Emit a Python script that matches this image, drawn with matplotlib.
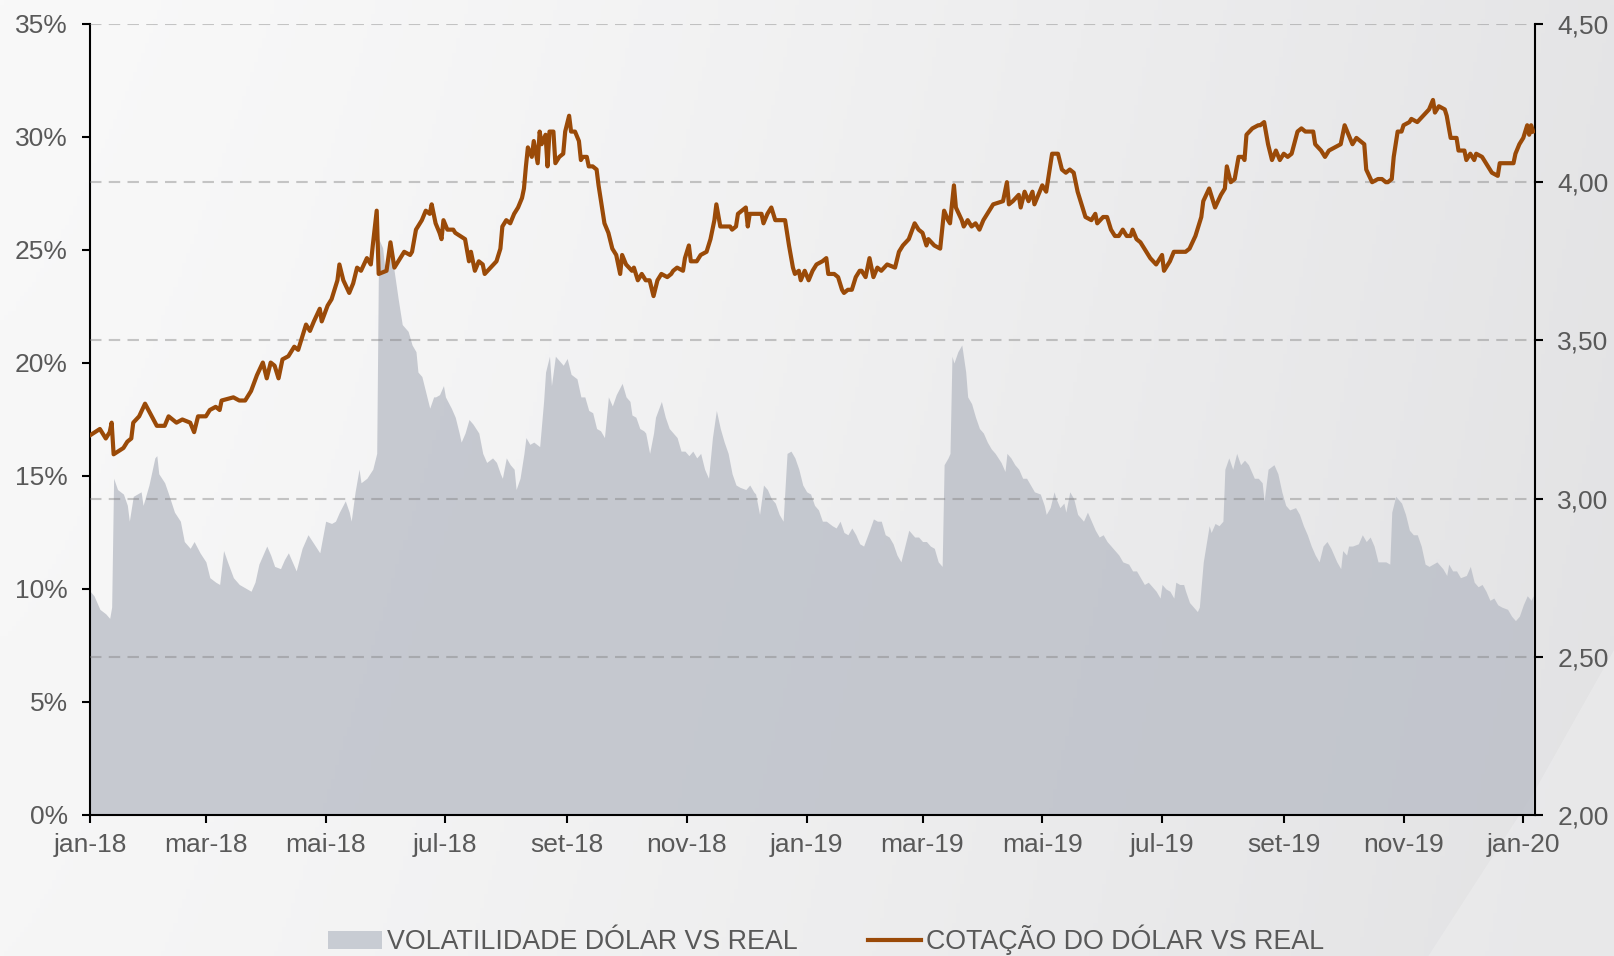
import numpy as np
import pandas as pd
import matplotlib
matplotlib.use('Agg')
import matplotlib.pyplot as plt
import matplotlib.dates as mdates
from matplotlib.patches import Patch, Polygon
from matplotlib.lines import Line2D
from matplotlib.ticker import FuncFormatter, FixedLocator

plt.rcParams['font.family'] = ['Liberation Sans', 'DejaVu Sans']

INICIO = pd.Timestamp('2018-01-01')

# cotação do dólar (R$), dias contados desde 01/01/2018
dias_cotacao = [
    0, 5, 8, 10, 11, 12, 17, 19, 21, 22,
    25, 28, 34, 38, 40, 44, 47, 51, 53, 55,
    59, 61, 64, 66, 67, 73, 76, 79, 82, 85,
    88, 90, 92, 94, 96, 98, 101, 104, 106, 110,
    112, 114, 117, 118, 121, 123, 126, 127, 129, 132,
    134, 136, 138, 141, 143, 144, 146, 147, 151, 153,
    155, 157, 160, 163, 164, 166, 169, 171, 173, 174,
    176, 178, 179, 180, 182, 185, 186, 191, 193, 194,
    196, 198, 200, 201, 204, 207, 209, 210, 212, 214,
    216, 218, 220, 221, 222, 223, 225, 226, 228, 229,
    230, 232, 233, 234, 236, 237, 239, 241, 242, 244,
    245, 247, 249, 250, 251, 253, 254, 256, 258, 259,
    260, 262, 264, 266, 268, 270, 271, 273, 276, 277,
    279, 281, 283, 285, 287, 289, 291, 294, 296, 297,
    299, 302, 303, 305, 306, 309, 311, 314, 316, 318,
    319, 321, 323, 326, 327, 329, 330, 332, 334, 335,
    336, 339, 340, 342, 343, 345, 347, 349, 350, 354,
    356, 358, 359, 361, 362, 364, 366, 368, 370, 373,
    375, 376, 379, 381, 383, 384, 386, 388, 390, 392,
    393, 395, 397, 399, 401, 403, 406, 410, 412, 414,
    417, 420, 422, 424, 426, 427, 430, 433, 435, 437,
    438, 440, 441, 444, 445, 447, 449, 451, 453, 455,
    457, 460, 465, 467, 468, 470, 473, 474, 476, 478,
    480, 481, 485, 487, 489, 490, 493, 495, 497, 499,
    501, 503, 505, 507, 510, 512, 513, 516, 518, 520,
    522, 524, 526, 528, 530, 531, 533, 535, 537, 538,
    540, 543, 546, 547, 550, 552, 555, 558, 560, 563,
    566, 567, 570, 573, 576, 578, 579, 581, 583, 585,
    587, 588, 589, 592, 595, 596, 598, 600, 602, 604,
    606, 608, 610, 612, 615, 617, 619, 621, 623, 624,
    627, 629, 631, 634, 637, 639, 643, 645, 649, 650,
    653, 656, 658, 660, 661, 663, 664, 666, 668, 669,
    672, 673, 676, 679, 682, 684, 685, 687, 690, 691,
    693, 696, 697, 700, 701, 703, 705, 706, 709, 712,
    714, 717, 718, 722, 725, 726, 728, 730, 732, 733,
    734, 735,
]
cotacao = [
    3.20, 3.22, 3.19, 3.21, 3.24, 3.14, 3.16, 3.18, 3.19, 3.24,
    3.26, 3.30, 3.23, 3.23, 3.26, 3.24, 3.25, 3.24, 3.21, 3.26,
    3.26, 3.28, 3.29, 3.28, 3.31, 3.32, 3.31, 3.31, 3.34, 3.39,
    3.43, 3.38, 3.43, 3.42, 3.38, 3.44, 3.45, 3.48, 3.47, 3.55,
    3.53, 3.56, 3.60, 3.56, 3.61, 3.63, 3.69, 3.74, 3.69, 3.65,
    3.68, 3.73, 3.72, 3.76, 3.74, 3.80, 3.91, 3.71, 3.72, 3.81,
    3.73, 3.75, 3.78, 3.77, 3.78, 3.85, 3.88, 3.91, 3.90, 3.93,
    3.87, 3.84, 3.82, 3.88, 3.85, 3.85, 3.84, 3.82, 3.75, 3.78,
    3.72, 3.75, 3.74, 3.71, 3.73, 3.75, 3.79, 3.86, 3.88, 3.87,
    3.90, 3.92, 3.95, 3.98, 4.05, 4.11, 4.08, 4.13, 4.06, 4.16,
    4.12, 4.15, 4.05, 4.16, 4.16, 4.06, 4.08, 4.09, 4.16, 4.21,
    4.16, 4.16, 4.13, 4.07, 4.08, 4.08, 4.05, 4.05, 4.04, 3.99,
    3.95, 3.87, 3.84, 3.79, 3.77, 3.71, 3.77, 3.74, 3.72, 3.73,
    3.69, 3.71, 3.69, 3.69, 3.64, 3.69, 3.71, 3.70, 3.71, 3.72,
    3.73, 3.72, 3.76, 3.80, 3.75, 3.75, 3.77, 3.78, 3.82, 3.88,
    3.93, 3.86, 3.86, 3.86, 3.85, 3.86, 3.90, 3.91, 3.92, 3.86,
    3.90, 3.90, 3.90, 3.90, 3.87, 3.90, 3.92, 3.88, 3.88, 3.88,
    3.80, 3.73, 3.71, 3.72, 3.69, 3.72, 3.69, 3.72, 3.74, 3.75,
    3.76, 3.71, 3.71, 3.70, 3.66, 3.65, 3.66, 3.66, 3.70, 3.72,
    3.72, 3.70, 3.76, 3.70, 3.73, 3.72, 3.74, 3.73, 3.78, 3.80,
    3.82, 3.87, 3.85, 3.84, 3.80, 3.82, 3.80, 3.79, 3.91, 3.88,
    3.87, 3.99, 3.92, 3.88, 3.86, 3.88, 3.86, 3.87, 3.85, 3.88,
    3.90, 3.93, 3.94, 4.00, 3.93, 3.94, 3.96, 3.92, 3.97, 3.94,
    3.97, 3.93, 3.99, 3.97, 4.05, 4.09, 4.09, 4.04, 4.03, 4.04,
    4.03, 3.97, 3.93, 3.89, 3.88, 3.90, 3.87, 3.89, 3.89, 3.85,
    3.83, 3.83, 3.85, 3.83, 3.83, 3.85, 3.82, 3.81, 3.79, 3.78,
    3.76, 3.74, 3.77, 3.72, 3.75, 3.78, 3.78, 3.78, 3.79, 3.83,
    3.89, 3.94, 3.98, 3.92, 3.96, 3.98, 4.05, 4.00, 4.01, 4.08,
    4.08, 4.07, 4.15, 4.17, 4.18, 4.18, 4.19, 4.12, 4.07, 4.10,
    4.07, 4.09, 4.08, 4.09, 4.16, 4.17, 4.16, 4.16, 4.16, 4.12,
    4.10, 4.08, 4.10, 4.11, 4.12, 4.18, 4.12, 4.14, 4.12, 4.04,
    4.00, 4.01, 4.01, 4.00, 4.00, 4.01, 4.08, 4.16, 4.16, 4.18,
    4.19, 4.20, 4.19, 4.21, 4.23, 4.26, 4.22, 4.24, 4.23, 4.21,
    4.14, 4.14, 4.10, 4.10, 4.07, 4.09, 4.07, 4.09, 4.08, 4.05,
    4.03, 4.02, 4.06, 4.06, 4.06, 4.09, 4.12, 4.14, 4.18, 4.15,
    4.18, 4.16,
]

# volatilidade (%), dias contados desde 01/01/2018
dias_vol = [
    0, 2, 5, 8, 10, 11, 12, 14, 17, 19,
    20, 22, 24, 26, 27, 30, 33, 34, 35, 38,
    40, 43, 46, 48, 51, 53, 56, 59, 61, 64,
    66, 68, 70, 73, 76, 80, 82, 84, 86, 88,
    90, 92, 94, 97, 99, 101, 103, 105, 108, 111,
    114, 117, 120, 123, 125, 127, 130, 132, 133, 135,
    137, 138, 141, 144, 146, 147, 149, 150, 152, 153,
    155, 157, 159, 162, 164, 166, 167, 169, 171, 173,
    175, 176, 178, 180, 181, 184, 186, 188, 189, 191,
    193, 195, 198, 200, 202, 205, 207, 209, 210, 212,
    214, 216, 217, 219, 221, 222, 224, 226, 229, 231,
    232, 234, 235, 237, 239, 241, 243, 245, 248, 250,
    252, 254, 256, 258, 260, 262, 264, 266, 268, 271,
    273, 275, 276, 278, 280, 282, 283, 285, 287, 288,
    291, 293, 295, 297, 299, 301, 303, 305, 307, 309,
    311, 313, 315, 317, 319, 321, 323, 325, 327, 329,
    331, 334, 336, 338, 339, 341, 343, 345, 347, 349,
    351, 353, 355, 357, 359, 361, 363, 365, 367, 369,
    371, 373, 375, 378, 380, 382, 384, 386, 388, 390,
    392, 394, 397, 399, 401, 403, 405, 407, 409, 411,
    413, 415, 417, 420, 422, 424, 426, 428, 430, 432,
    434, 435, 437, 438, 439, 440, 442, 444, 446, 447,
    449, 451, 453, 455, 457, 459, 461, 464, 466, 467,
    469, 471, 473, 475, 477, 479, 481, 484, 486, 487,
    489, 491, 492, 494, 496, 497, 499, 501, 503, 506,
    508, 510, 512, 514, 516, 518, 520, 522, 524, 526,
    529, 531, 533, 535, 537, 539, 541, 543, 545, 546,
    548, 550, 552, 553, 555, 557, 558, 560, 562, 564,
    565, 567, 570, 571, 573, 575, 577, 578, 580, 582,
    584, 586, 588, 590, 593, 595, 597, 598, 600, 603,
    605, 607, 609, 611, 614, 616, 618, 620, 622, 624,
    626, 628, 630, 632, 635, 637, 638, 640, 641, 643,
    646, 648, 650, 652, 654, 656, 658, 660, 662, 663,
    665, 668, 670, 672, 674, 676, 678, 680, 682, 684,
    686, 689, 691, 692, 694, 696, 698, 701, 703, 705,
    707, 709, 711, 713, 715, 717, 719, 722, 724, 726,
    728, 730, 732, 734, 735,
]
volatilidade = [
    9.9, 9.7, 9.1, 8.9, 8.7, 9.2, 14.9, 14.4, 14.2, 13.7,
    13.0, 14.1, 14.2, 14.3, 13.7, 14.6, 15.8, 15.9, 15.1, 14.7,
    14.2, 13.4, 13.0, 12.1, 11.8, 12.1, 11.6, 11.2, 10.5, 10.3,
    10.2, 11.7, 11.2, 10.5, 10.2, 10.0, 9.9, 10.3, 11.1, 11.5,
    11.9, 11.5, 11.0, 10.9, 11.3, 11.6, 11.2, 10.8, 11.8, 12.4,
    12.0, 11.6, 13.0, 12.9, 13.0, 13.4, 13.9, 13.4, 13.0, 14.3,
    15.3, 14.7, 14.9, 15.3, 16.0, 25.5, 25.1, 24.3, 24.8, 25.2,
    24.0, 22.8, 21.7, 21.4, 20.8, 20.5, 19.6, 19.4, 18.7, 18.0,
    18.5, 18.5, 18.6, 19.0, 18.5, 18.0, 17.6, 16.9, 16.5, 16.9,
    17.5, 17.3, 16.9, 16.0, 15.6, 15.8, 15.6, 15.1, 14.9, 15.8,
    15.5, 15.3, 14.4, 14.9, 16.0, 16.7, 16.4, 16.5, 16.3, 18.3,
    19.6, 20.3, 19.0, 20.3, 20.1, 19.9, 20.2, 19.5, 19.3, 18.5,
    18.5, 17.9, 17.8, 17.1, 17.0, 16.7, 18.5, 18.1, 18.6, 19.1,
    18.5, 18.3, 17.7, 17.6, 17.1, 17.0, 16.9, 16.0, 16.9, 17.6,
    18.3, 17.6, 17.1, 16.9, 16.7, 16.1, 16.1, 15.9, 16.1, 15.8,
    16.0, 15.3, 14.9, 16.7, 17.9, 17.1, 16.5, 16.0, 15.1, 14.6,
    14.5, 14.4, 14.6, 14.3, 14.2, 13.3, 14.6, 14.4, 14.0, 13.8,
    13.3, 13.0, 16.0, 16.1, 15.8, 15.3, 14.6, 14.3, 14.2, 13.7,
    13.5, 13.0, 13.0, 12.8, 12.7, 13.0, 12.5, 12.4, 12.7, 12.4,
    12.0, 11.9, 12.6, 13.1, 13.0, 13.0, 12.4, 12.3, 12.0, 11.5,
    11.2, 11.9, 12.6, 12.3, 12.3, 12.1, 12.1, 11.9, 11.8, 11.2,
    11.0, 15.5, 15.8, 16.0, 20.3, 20.0, 20.5, 20.8, 19.6, 18.5,
    18.2, 17.6, 17.1, 16.9, 16.5, 16.2, 16.0, 15.6, 15.2, 16.0,
    15.8, 15.5, 15.3, 14.9, 14.9, 14.6, 14.3, 14.2, 13.7, 13.3,
    13.6, 14.3, 14.0, 13.6, 13.8, 13.4, 14.3, 14.0, 13.3, 13.0,
    13.4, 13.0, 12.6, 12.3, 12.4, 12.1, 11.9, 11.7, 11.5, 11.2,
    11.1, 10.8, 10.8, 10.5, 10.2, 10.3, 10.1, 9.9, 9.6, 10.2,
    10.0, 9.9, 9.6, 10.3, 10.2, 10.2, 9.9, 9.4, 9.2, 9.0,
    9.2, 11.2, 12.8, 12.5, 12.9, 12.8, 13.0, 15.3, 15.8, 15.3,
    16.0, 15.5, 15.7, 15.5, 14.9, 14.9, 14.7, 13.9, 15.3, 15.5,
    15.1, 14.3, 13.7, 13.5, 13.6, 13.3, 12.8, 12.4, 11.9, 11.5,
    11.2, 11.9, 12.1, 11.8, 11.2, 10.9, 11.7, 11.5, 11.9, 11.9,
    12.0, 12.4, 12.1, 12.3, 11.9, 11.2, 11.2, 11.2, 11.1, 13.4,
    14.1, 13.8, 13.3, 12.6, 12.4, 12.4, 11.9, 11.1, 11.0, 11.1,
    11.2, 10.9, 10.6, 11.1, 10.8, 10.8, 10.5, 10.6, 11.0, 10.3,
    10.1, 10.2, 9.9, 9.5, 9.6, 9.3, 9.2, 9.1, 8.8, 8.6,
    8.8, 9.3, 9.7, 9.5, 9.7,
]

meses = ['jan', 'fev', 'mar', 'abr', 'mai', 'jun',
         'jul', 'ago', 'set', 'out', 'nov', 'dez']
ticks_pct = [0, 5, 10, 15, 20, 25, 30, 35]
ticks_cotacao = [2.0, 2.5, 3.0, 3.5, 4.0, 4.5]

COR_LINHA = '#9A4A08'
COR_AREA = '#B9BDC6'
COR_TEXTO = '#595959'

datas_cot = INICIO + pd.to_timedelta(dias_cotacao, unit='D')
datas_vol = INICIO + pd.to_timedelta(dias_vol, unit='D')

fig = plt.figure(figsize=(16.14, 9.56), dpi=100)

# fundo em degradê
bg = fig.add_axes([0, 0, 1, 1], zorder=-10)
gx = np.linspace(0, 1, 400)
gy = np.linspace(0, 1, 200)[:, None]
grad = 249 - 20 * gx[None, :] ** 1.3 - 3 * gy
bg.imshow(np.dstack([grad, grad, grad + 1.5 * gx[None, :]]).clip(0, 255).astype(np.uint8),
          extent=[0, 1, 0, 1], aspect='auto', origin='upper')
bg.add_patch(Polygon([[0.885, 0], [0.95, 0.17], [1.0, 0.32], [1.0, 0]],
                     closed=True, facecolor='#f0f0f1', edgecolor='none',
                     alpha=0.45))
bg.set_xlim(0, 1)
bg.set_ylim(0, 1)
bg.axis('off')

ax = fig.add_axes([0.0558, 0.1475, 0.8953, 0.8274])
ax2 = ax.twinx()
ax.patch.set_visible(False)
ax2.patch.set_visible(False)

ax.fill_between(datas_vol, volatilidade, 0, color=COR_AREA, alpha=0.78,
                linewidth=0)
ax.set_ylim(0, 35)
ax.yaxis.set_major_locator(FixedLocator(ticks_pct))
ax.yaxis.set_major_formatter(FuncFormatter(lambda v, p: f'{int(round(v))}%'))

for y in ticks_cotacao[1:]:
    ax2.axhline(y, color='#7f7f7f', alpha=0.42, lw=1.5,
                linestyle=(0, (5.5, 3.5)), zorder=1)
ax2.plot(datas_cot, cotacao, color=COR_LINHA, lw=3.0, zorder=3,
         solid_joinstyle='round')
ax2.set_ylim(2.0, 4.5)
ax2.yaxis.set_major_locator(FixedLocator(ticks_cotacao))
ax2.yaxis.set_major_formatter(
    FuncFormatter(lambda v, p: f'{v:.2f}'.replace('.', ',')))

ax.set_xlim(INICIO, INICIO + pd.Timedelta(days=736))
ax.xaxis.set_major_locator(mdates.MonthLocator(bymonth=[1, 3, 5, 7, 9, 11]))
ax.xaxis.set_major_formatter(FuncFormatter(
    lambda v, p: f"{meses[mdates.num2date(v).month - 1]}-{mdates.num2date(v):%y}"))

for a in (ax, ax2):
    a.spines['top'].set_visible(False)
    for s in ('left', 'right', 'bottom'):
        a.spines[s].set_color('black')
        a.spines[s].set_linewidth(1.5)
    a.tick_params(axis='both', direction='out', length=6, width=1.5,
                  colors='black', labelcolor=COR_TEXTO, labelsize=19, pad=10)
ax.spines['right'].set_visible(False)
ax2.spines['left'].set_visible(False)
ax2.spines['bottom'].set_visible(False)
ax.tick_params(axis='x', pad=7)

handles = [Patch(facecolor='#c8ccd3', edgecolor='none'),
           Line2D([], [], color=COR_LINHA, lw=3.0)]
labels = ['VOLATILIDADE DÓLAR VS REAL', 'COTAÇÃO DO DÓLAR VS REAL']
fig.legend(handles, labels, loc='center', bbox_to_anchor=(0.512, 0.0165),
           ncol=2, frameon=False, fontsize=19.3, handlelength=2.0,
           handletextpad=0.2, columnspacing=2.6, borderpad=0,
           labelcolor=COR_TEXTO)

fig.savefig('out.png', dpi=100)
